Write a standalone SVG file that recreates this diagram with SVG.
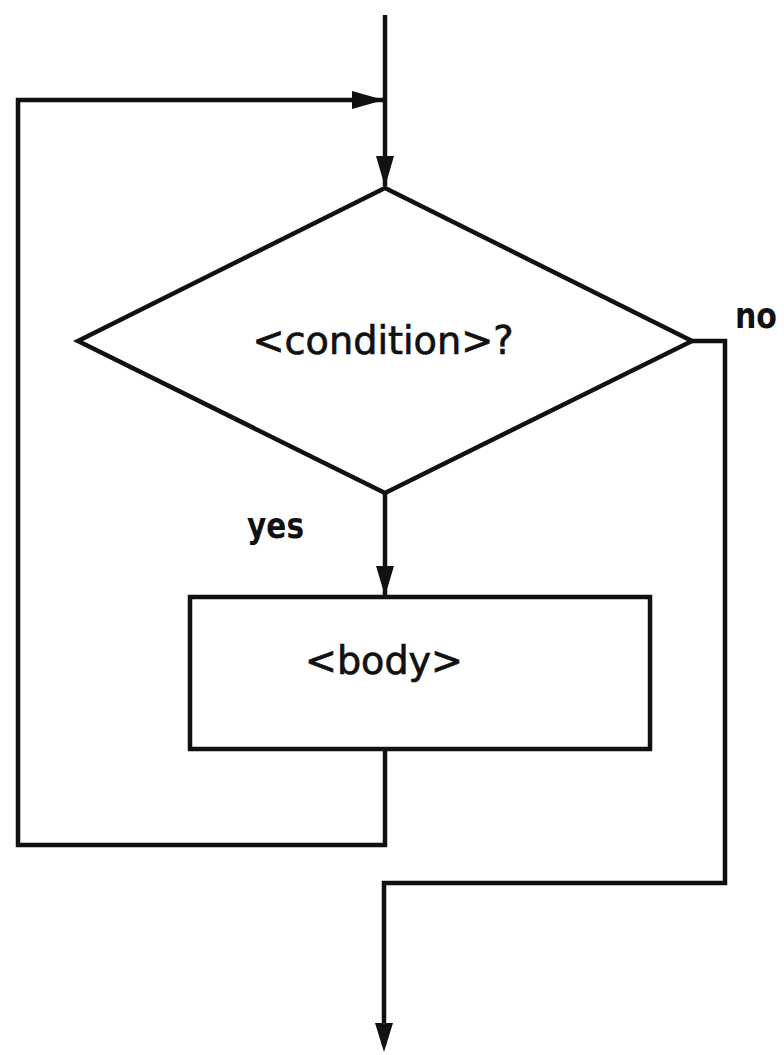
<svg xmlns="http://www.w3.org/2000/svg" width="784" height="1055" viewBox="0 0 784 1055">
<style>
.ln{fill:none;stroke:#111;stroke-width:4.5;stroke-linejoin:miter;stroke-linecap:butt}
.shape{fill:#fff;stroke:#111;stroke-width:4.5;stroke-linejoin:miter}
.head{fill:#111}
.lbl{font-family:"DejaVu Sans",sans-serif;font-size:39px;fill:#111;stroke:#111;stroke-width:0.7;text-anchor:middle}
.edge{font-family:"DejaVu Sans",sans-serif;font-weight:bold;font-size:36px;fill:#111}
</style>
<rect width="784" height="1055" fill="#fff"/>
<g id="connectors">
<line class="ln" x1="385" y1="15" x2="385" y2="186"/>
<path class="head" d="M376,156 L385,187 L394,156 Z"/>
<polyline class="ln" points="385,750 385,845 18,845 18,100 384,100"/>
<path class="head" d="M352,91 L384,100 L352,109 Z"/>
<line class="ln" x1="385" y1="493" x2="385" y2="596"/>
<path class="head" d="M376,566 L385,596 L394,566 Z"/>
<polyline class="ln" points="692,341 725,341 725,883 384,883 384,1045"/>
<path class="head" d="M375,1023 L384,1052 L393,1023 Z"/>
</g>
<g id="condition">
<polygon class="shape" points="385,188 692,341 385,493 78,341"/>
<text class="lbl" x="383" y="354" textLength="261" lengthAdjust="spacingAndGlyphs">&lt;condition&gt;?</text>
</g>
<g id="body">
<rect class="shape" x="190" y="597" width="460" height="152"/>
<text class="lbl" x="384" y="674" textLength="158" lengthAdjust="spacingAndGlyphs">&lt;body&gt;</text>
</g>
<g id="labels">
<text class="edge" x="247" y="538" textLength="57" lengthAdjust="spacingAndGlyphs">yes</text>
<text class="edge" x="735" y="328" textLength="42" lengthAdjust="spacingAndGlyphs">no</text>
</g>
</svg>
